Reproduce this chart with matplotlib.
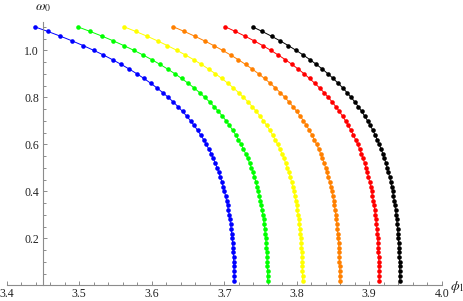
import matplotlib
matplotlib.use('Agg')
import matplotlib.pyplot as plt
from matplotlib.ticker import MultipleLocator, FixedLocator

plt.rcParams['font.family'] = ['Liberation Serif', 'DejaVu Serif']
plt.rcParams['mathtext.fontset'] = 'stix'

# omega_0 values (same grid for every curve)
omega = [1.10, 1.08, 1.06, 1.04, 1.02, 1.00, 0.98, 0.96, 0.94, 0.92,
         0.90, 0.88, 0.86, 0.84, 0.82, 0.80, 0.78, 0.76, 0.74, 0.72,
         0.70, 0.68, 0.66, 0.64, 0.62, 0.60, 0.58, 0.56, 0.54, 0.52,
         0.50, 0.48, 0.46, 0.44, 0.42, 0.40, 0.38, 0.36, 0.34, 0.32,
         0.30, 0.28, 0.26, 0.24, 0.22, 0.20, 0.18, 0.16, 0.14, 0.12,
         0.10, 0.08, 0.06, 0.04, 0.02]

# phi_1 values of each curve
phi_blue = [3.4385, 3.4568, 3.4740, 3.4902, 3.5054, 3.5198, 3.5333, 3.5459, 3.5578, 3.5690,
            3.5795, 3.5893, 3.5985, 3.6071, 3.6151, 3.6227, 3.6297, 3.6363, 3.6424, 3.6482,
            3.6535, 3.6585, 3.6631, 3.6674, 3.6715, 3.6752, 3.6786, 3.6819, 3.6848, 3.6876,
            3.6901, 3.6925, 3.6947, 3.6967, 3.6985, 3.7002, 3.7018, 3.7032, 3.7045, 3.7057,
            3.7068, 3.7078, 3.7087, 3.7095, 3.7102, 3.7109, 3.7115, 3.7120, 3.7124, 3.7128,
            3.7131, 3.7134, 3.7135, 3.7137, 3.7138]
phi_green = [3.4978, 3.5152, 3.5316, 3.5470, 3.5615, 3.5752, 3.5880, 3.6001, 3.6114, 3.6220,
             3.6320, 3.6413, 3.6501, 3.6583, 3.6660, 3.6731, 3.6799, 3.6861, 3.6920, 3.6974,
             3.7025, 3.7072, 3.7117, 3.7158, 3.7196, 3.7231, 3.7264, 3.7295, 3.7323, 3.7349,
             3.7374, 3.7396, 3.7417, 3.7436, 3.7453, 3.7470, 3.7485, 3.7498, 3.7511, 3.7522,
             3.7532, 3.7542, 3.7550, 3.7558, 3.7565, 3.7571, 3.7577, 3.7582, 3.7586, 3.7589,
             3.7592, 3.7595, 3.7597, 3.7598, 3.7599]
phi_yellow = [3.5617, 3.5781, 3.5935, 3.6080, 3.6216, 3.6345, 3.6465, 3.6579, 3.6685, 3.6785,
              3.6879, 3.6967, 3.7049, 3.7126, 3.7198, 3.7265, 3.7329, 3.7387, 3.7442, 3.7494,
              3.7541, 3.7586, 3.7628, 3.7666, 3.7702, 3.7735, 3.7766, 3.7795, 3.7822, 3.7846,
              3.7869, 3.7890, 3.7910, 3.7928, 3.7944, 3.7959, 3.7973, 3.7986, 3.7998, 3.8009,
              3.8018, 3.8027, 3.8035, 3.8043, 3.8049, 3.8055, 3.8060, 3.8065, 3.8069, 3.8072,
              3.8075, 3.8077, 3.8079, 3.8080, 3.8081]
phi_orange = [3.6297, 3.6450, 3.6593, 3.6729, 3.6856, 3.6976, 3.7088, 3.7194, 3.7294, 3.7387,
              3.7474, 3.7556, 3.7633, 3.7705, 3.7772, 3.7835, 3.7894, 3.7949, 3.8000, 3.8048,
              3.8093, 3.8134, 3.8173, 3.8209, 3.8242, 3.8274, 3.8302, 3.8329, 3.8354, 3.8377,
              3.8398, 3.8418, 3.8436, 3.8453, 3.8468, 3.8483, 3.8496, 3.8508, 3.8519, 3.8529,
              3.8538, 3.8546, 3.8554, 3.8560, 3.8566, 3.8572, 3.8577, 3.8581, 3.8584, 3.8588,
              3.8590, 3.8592, 3.8594, 3.8595, 3.8596]
phi_red = [3.7014, 3.7155, 3.7288, 3.7413, 3.7531, 3.7641, 3.7745, 3.7843, 3.7935, 3.8021,
           3.8102, 3.8177, 3.8248, 3.8315, 3.8377, 3.8435, 3.8489, 3.8540, 3.8588, 3.8632,
           3.8673, 3.8711, 3.8747, 3.8780, 3.8811, 3.8840, 3.8867, 3.8892, 3.8914, 3.8936,
           3.8955, 3.8974, 3.8990, 3.9006, 3.9020, 3.9033, 3.9045, 3.9056, 3.9066, 3.9076,
           3.9084, 3.9092, 3.9099, 3.9105, 3.9111, 3.9116, 3.9120, 3.9124, 3.9127, 3.9130,
           3.9133, 3.9135, 3.9136, 3.9137, 3.9138]
phi_black = [3.7390, 3.7525, 3.7652, 3.7772, 3.7884, 3.7990, 3.8090, 3.8183, 3.8271, 3.8354,
             3.8431, 3.8503, 3.8571, 3.8635, 3.8694, 3.8750, 3.8802, 3.8851, 3.8896, 3.8938,
             3.8978, 3.9015, 3.9049, 3.9081, 3.9110, 3.9138, 3.9163, 3.9187, 3.9209, 3.9229,
             3.9248, 3.9266, 3.9282, 3.9296, 3.9310, 3.9323, 3.9334, 3.9345, 3.9355, 3.9363,
             3.9371, 3.9379, 3.9385, 3.9391, 3.9397, 3.9402, 3.9406, 3.9410, 3.9413, 3.9416,
             3.9418, 3.9420, 3.9421, 3.9422, 3.9423]

curves = [phi_blue, phi_green, phi_yellow, phi_orange, phi_red, phi_black]
colors = ['#0000ff', '#00ff00', '#ffff00', '#ff8000', '#ff0000', '#000000']

x_ticks = [3.4, 3.5, 3.6, 3.7, 3.8, 3.9, 4.0]
x_ticklabels = ['3.4', '3.5', '3.6', '3.7', '3.8', '3.9', '4.0']
y_ticks = [0.2, 0.4, 0.6, 0.8, 1.0]
y_ticklabels = ['0.2', '0.4', '0.6', '0.8', '1.0']

fig = plt.figure(figsize=(4.64, 3.01), dpi=100)
ax = fig.add_axes([0.01466, 0.05216, 0.93728, 0.87442])

for xs, c in zip(curves, colors):
    ax.plot(xs, omega, '-', color=c, lw=0.7, marker='o', ms=3.3,
            mec=c, mfc=c, mew=0, clip_on=False)

ax.set_xlim(3.4, 4.0)
ax.set_ylim(0, 1.12)

axis_gray = '#8c8c8c'
ax.spines['top'].set_visible(False)
ax.spines['right'].set_visible(False)
ax.spines['left'].set_position(('data', 3.45))
ax.spines['bottom'].set_position(('data', 0))
for s in ['left', 'bottom']:
    ax.spines[s].set_color(axis_gray)
    ax.spines[s].set_linewidth(0.8)

ax.xaxis.set_major_locator(FixedLocator(x_ticks))
ax.set_xticklabels(x_ticklabels)
ax.xaxis.set_minor_locator(MultipleLocator(0.02))
ax.yaxis.set_major_locator(FixedLocator(y_ticks))
ax.set_yticklabels(y_ticklabels)
ax.yaxis.set_minor_locator(MultipleLocator(0.05))

ax.tick_params(which='both', direction='in', color=axis_gray, width=0.7,
               labelsize=8.5, labelcolor='#222222')
ax.tick_params(which='major', length=3.2)
ax.tick_params(which='minor', length=1.9)
ax.tick_params(axis='x', pad=2)
ax.tick_params(axis='y', pad=3)

fig.text(43 / 464, 1 - 8 / 301, r'$\omega_0$', ha='center', va='center',
         fontsize=10, color='#222222')
fig.text(457 / 464, 1 - 287 / 301, r'$\phi_1$', ha='center', va='center',
         fontsize=10, color='#222222')

fig.savefig('out.png', dpi=100)
